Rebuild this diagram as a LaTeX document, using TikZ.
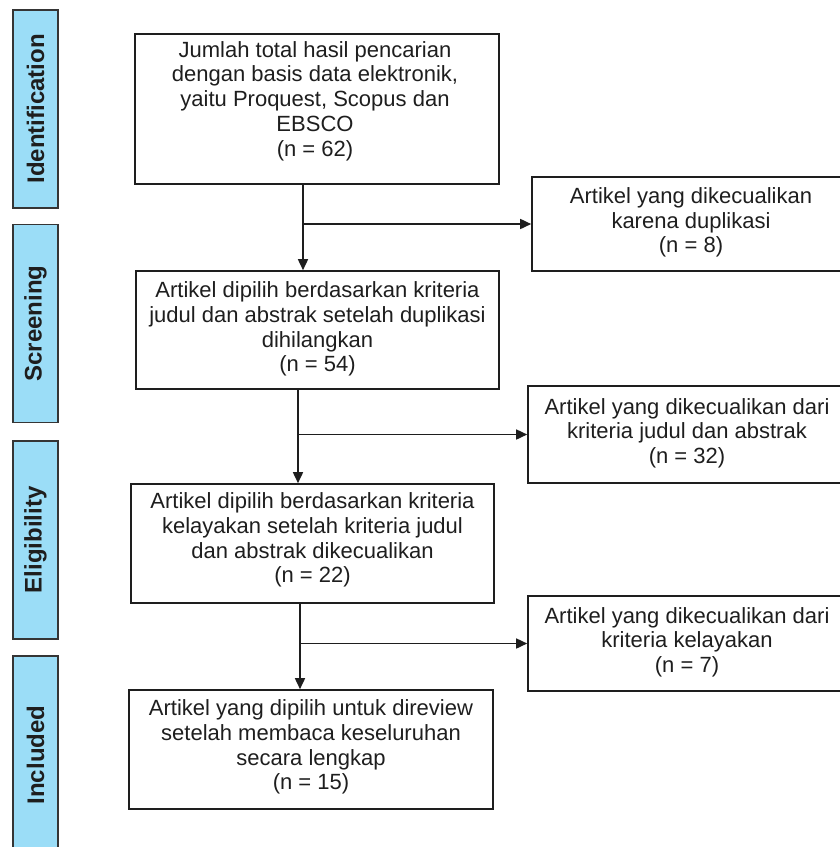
\documentclass[tikz,border=0pt]{standalone}
\usepackage{fontspec}
\setmainfont{Liberation Sans}
\usetikzlibrary{arrows.meta}
\definecolor{barblue}{RGB}{155,221,247}
\definecolor{ink}{RGB}{30,30,30}
\tikzset{
  box/.style={draw=ink, line width=1.6pt, rectangle, inner sep=0pt},
  txt/.style={align=center, text=ink, font=\fontsize{22}{24.7}\selectfont, inner sep=0pt},
  bar/.style={draw=ink!90, fill=barblue, line width=1.6pt, rectangle, inner sep=0pt, minimum width=45pt, minimum height=198pt},
  barlabel/.style={rotate=90, font=\fontsize{24}{28}\selectfont\bfseries, text=ink},
  arr/.style={draw=ink, line width=1.6pt, -{Triangle[length=11pt,width=10pt]}}
}
\begin{document}
\begin{tikzpicture}[x=1pt,y=-1pt]
\useasboundingbox (0,0) rectangle (840,847);
\clip (0,0) rectangle (840,847);
% side bars
\node[bar] (s1) at (35.5,109) {};
\node[barlabel] at (s1.center) {Identification};
\node[bar] (s2) at (35.5,323.5) {};
\node[barlabel] at (s2.center) {Screening};
\node[bar] (s3) at (35.5,540) {};
\node[barlabel] at (s3.center) {Eligibility};
\node[bar] (s4) at (35.5,755) {};
\node[barlabel] at (s4.center) {Included};
% main boxes
\node[box, minimum width=364pt, minimum height=150pt] (b1) at (317,109) {};
\node[txt] (t1) at (315,101) {Jumlah total hasil pencarian\\dengan basis data elektronik,\\yaitu Proquest, Scopus dan\\EBSCO\\(n = 62)};
\node[box, minimum width=363pt, minimum height=118pt] (b2) at (317.5,330) {};
\node[txt] (t2) at (317.5,329) {Artikel dipilih berdasarkan kriteria\\judul dan abstrak setelah duplikasi\\dihilangkan\\(n = 54)};
\node[box, minimum width=363pt, minimum height=119pt] (b3) at (312.5,543.5) {};
\node[txt] (t3) at (312.5,540) {Artikel dipilih berdasarkan kriteria\\kelayakan setelah kriteria judul\\dan abstrak dikecualikan\\(n = 22)};
\node[box, minimum width=364pt, minimum height=119pt] (b4) at (311,749.5) {};
\node[txt] (t4) at (311,747) {Artikel yang dipilih untuk direview\\setelah membaca keseluruhan\\secara lengkap\\(n = 15)};
% right boxes
\node[box, minimum width=318pt, minimum height=94pt] (r1) at (691,224) {};
\node[txt] (u1) at (691,222.5) {Artikel yang dikecualikan\\karena duplikasi\\(n = 8)};
\node[box, minimum width=318pt, minimum height=97pt] (r2) at (687,434.5) {};
\node[txt] (u2) at (687,433) {Artikel yang dikecualikan dari\\kriteria judul dan abstrak\\(n = 32)};
\node[box, minimum width=318pt, minimum height=95pt] (r3) at (687,643.5) {};
\node[txt] (u3) at (687,642) {Artikel yang dikecualikan dari\\kriteria kelayakan\\(n = 7)};
% connector columns
\coordinate (v1) at (303,0);
\coordinate (v2) at (298,0);
\coordinate (v3) at (300,0);
% connectors
\draw[arr] (b1.south -| v1) -- (b2.north -| v1);
\draw[arr] (r1.west -| v1) -- (r1.west);
\draw[arr] (b2.south -| v2) -- (b3.north -| v2);
\draw[arr] (r2.west -| v2) -- (r2.west);
\draw[arr] (b3.south -| v3) -- (b4.north -| v3);
\draw[arr] (r3.west -| v3) -- (r3.west);
\end{tikzpicture}
\end{document}
